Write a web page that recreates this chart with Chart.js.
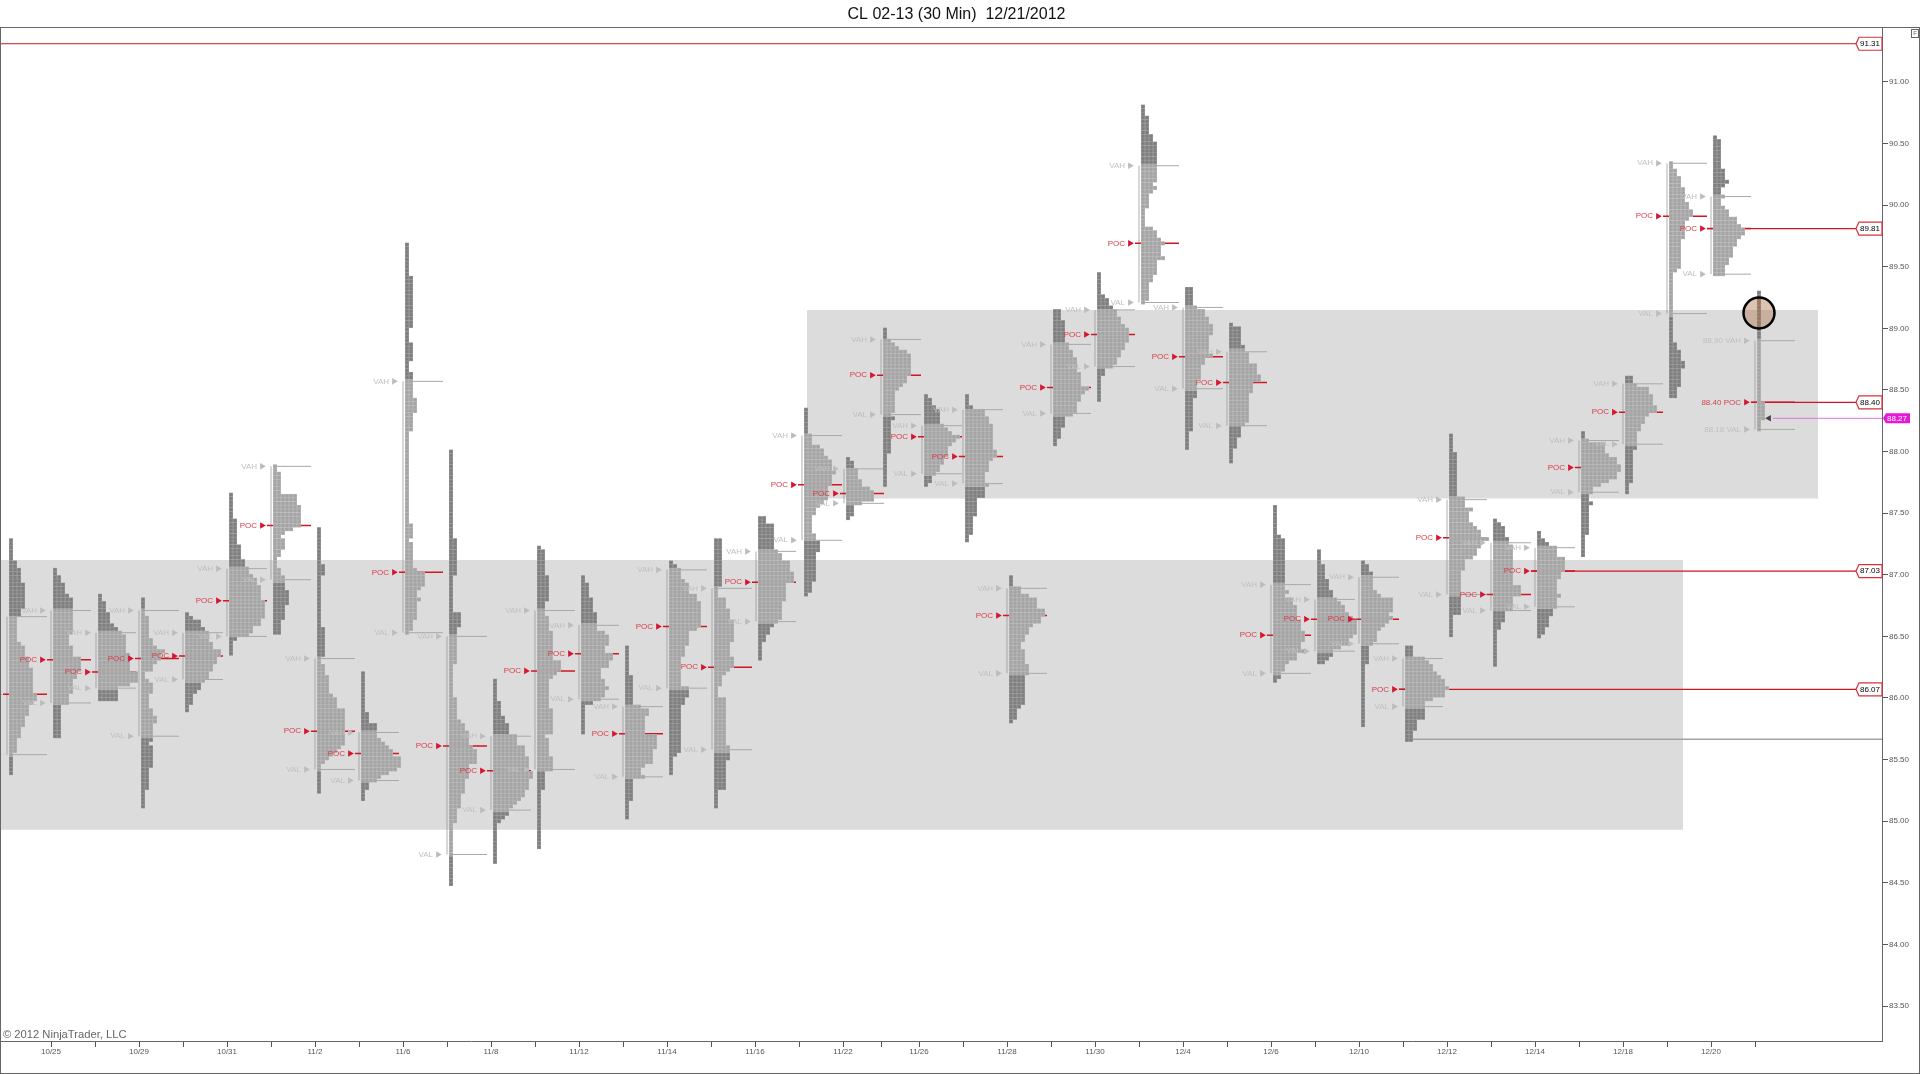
<!DOCTYPE html>
<html>
<head>
<meta charset="utf-8">
<title>CL 02-13 (30 Min)</title>
<script src="https://cdn.jsdelivr.net/npm/chart.js@4"></script>
<style>
  html, body { margin: 0; background: #fff; }
  canvas { display: block; }
</style>
</head>
<body>
<canvas id="grafica" width="1920" height="1074"></canvas>
<script>
const titulo = "CL 02-13 (30 Min)  12/21/2012";
const copyright = "\u00A9 2012 NinjaTrader, LLC";

// first 30 min bar of every session on the x axis
const sessionBar = [8,52,97,140,184,228,272,316,360,404,448,492,536,580,624,668,713,757,803,845,882,923,964,1008,1052,1096,1140,1184,1228,1272,1316,1360,1404,1448,1492,1536,1580,1624,1668,1712,1756];

const topPrice = [87.28,87.04,86.83,86.80,86.68,87.65,87.88,87.37,86.20,89.68,88.00,86.14,87.22,86.98,86.41,87.10,87.28,87.46,88.34,87.94,88.99,88.45,88.45,86.98,89.14,89.44,90.80,89.32,89.03,87.55,87.19,87.10,86.41,88.13,87.44,87.34,88.15,88.60,90.34,90.55,89.29];
const vah = [86.66,86.71,86.53,86.71,86.53,87.05,87.88,86.32,85.72,88.57,86.50,85.69,86.71,86.59,85.93,87.04,86.89,87.19,88.13,87.86,88.91,88.21,88.34,86.89,88.87,89.15,90.32,89.17,88.81,86.92,86.80,86.98,86.32,87.61,87.26,87.22,88.09,88.55,90.34,90.07,88.90];
const poc = [86.03,86.31,86.21,86.32,86.34,86.79,87.40,85.73,85.55,87.02,85.61,85.41,86.22,86.36,85.71,86.58,86.25,86.94,87.73,87.66,88.62,88.12,87.96,86.67,88.52,88.95,89.69,88.77,88.56,86.51,86.64,86.64,86.07,87.30,86.84,87.03,87.87,88.32,89.91,89.81,88.40];
const val = [85.54,85.96,86.08,85.69,86.15,86.50,86.96,85.42,85.33,86.53,84.73,85.09,85.42,85.99,85.36,86.08,85.58,86.62,87.28,87.58,88.30,87.82,87.74,86.20,88.31,88.69,89.21,88.51,88.21,86.20,86.38,86.44,85.93,86.84,86.71,86.74,87.67,88.06,89.12,89.44,88.18];

// width, rows, width, rows ... from the top of each profile, one row = 3 cents
const tpoRuns = [
  [1,6,2,2,3,4,4,7,3,2,2,7,3,1,4,3,5,3,6,7,7,2,6,1,5,3,4,3,3,3,2,4,1,6],
  [1,2,2,2,3,3,4,1,5,3,5,7,4,3,5,3,7,4,6,2,5,4,4,3,2,9],
  [1,2,2,3,3,3,4,1,5,1,6,1,7,5,8,5,10,3,8,1,5,4],
  [1,5,2,6,3,2,4,1,6,1,5,2,4,1,3,2,1,2,2,1,3,3,2,4,3,2,4,2,3,5,2,1,3,6,2,6,1,5],
  [1,1,2,1,4,2,5,1,6,3,7,2,9,2,8,2,7,2,6,2,5,1,4,2,3,1,2,3,1,2],
  [1,7,2,7,3,4,4,2,5,2,6,1,7,2,8,4,9,5,8,2,6,2,5,1,2,1,1,4],
  [1,2,2,6,6,3,7,6,5,1,3,1,2,1,3,3,2,2,1,3,2,2,3,4,4,4,3,4,2,4],
  [1,10,2,3,1,14,2,8,1,2,2,3,3,5,4,1,5,3,7,10,6,1,5,1,4,1,3,1,2,1,1,8],
  [1,11,2,3,4,4,5,1,6,1,7,1,8,2,10,3,9,1,7,1,5,1,4,1,2,2,1,3],
  [1,9,2,14,1,4,2,5,1,3,2,7,3,4,2,5,1,25,2,4,1,1,2,7,3,1,5,4,4,1,3,2,4,1,3,5,2,3,1,1],
  [1,24,2,10,1,10,3,4,2,10,1,9,2,6,3,1,4,2,5,4,6,1,7,4,5,4,4,4,3,4,2,4,1,17],
  [1,6,2,4,3,2,4,3,6,3,8,3,9,4,10,2,9,3,8,2,7,1,6,1,5,1,4,2,3,1,2,1,1,11],
  [1,1,2,7,3,7,2,4,3,4,4,8,6,3,5,1,4,1,3,8,4,7,2,1,3,5,4,4,2,5,1,16],
  [1,2,2,4,3,4,4,5,6,1,7,3,6,2,8,2,7,2,5,3,6,2,7,1,6,2,5,1,3,1,1,8],
  [1,8,2,8,4,1,6,2,5,5,8,4,7,4,5,1,4,2,5,1,2,6,1,5],
  [1,1,2,1,3,3,4,1,5,3,7,2,8,7,7,1,5,4,4,3,3,8,5,3,4,2,3,13,2,1,1,5],
  [2,13,1,3,3,3,4,3,5,6,4,4,5,3,4,1,3,1,2,3,1,3,3,13,4,4,3,8,1,5],
  [2,2,4,7,5,1,6,2,8,3,9,3,7,5,6,5,5,1,4,1,3,2,2,2,1,5],
  [1,7,2,3,4,1,5,2,6,1,7,3,8,1,7,3,6,4,5,1,4,1,3,2,2,5,3,2,4,3,3,8,2,3,1,1],
  [1,1,2,2,3,3,4,2,6,1,7,3,4,1,2,3,1,1],
  [1,3,2,1,3,1,4,1,6,1,7,6,6,2,5,1,4,1,3,6,2,1,3,1,2,9,1,9],
  [1,1,2,2,3,1,4,4,5,1,6,1,7,1,9,1,8,1,7,1,6,3,5,2,4,2,3,1,2,2,1,1],
  [1,3,2,1,5,2,6,2,7,7,8,2,7,1,6,3,5,3,6,1,5,3,3,5,2,5,1,2],
  [1,3,3,2,5,1,7,3,9,2,8,2,6,1,5,2,4,2,3,2,4,4,5,3,4,8,3,1,2,3,1,1],
  [2,3,3,6,4,2,5,2,6,4,7,4,9,1,8,1,7,2,6,3,5,1,3,3,2,3,1,2],
  [1,6,2,1,3,2,4,1,5,2,6,2,7,1,8,4,7,2,6,2,5,2,4,1,2,2,1,7],
  [1,3,2,5,3,2,4,11,3,1,4,1,3,1,2,4,1,5,3,1,4,2,5,1,6,1,5,3,6,1,4,4,3,2,2,5,1,1],
  [2,5,3,1,5,2,6,2,7,3,6,5,7,1,5,2,4,4,3,5,2,9,1,5],
  [1,1,3,5,4,2,5,3,7,3,8,2,6,3,5,8,4,1,3,3,2,3,1,4],
  [1,8,2,1,3,14,4,1,3,1,5,2,6,4,7,3,8,3,7,2,8,1,6,2,4,1,3,2,2,2,1,1],
  [1,4,2,4,3,3,4,2,5,1,6,1,7,2,8,1,9,1,10,4,9,1,8,2,6,1,4,2,3,1,2,1],
  [1,1,2,2,3,5,4,1,5,1,8,4,7,1,8,1,7,1,6,1,5,1,4,3,3,1,2,5,1,17],
  [2,3,5,1,6,1,7,2,8,1,9,1,10,2,11,1,10,2,7,1,5,5,3,3,2,3],
  [1,5,2,12,4,3,6,1,5,3,6,1,7,1,8,2,10,1,8,2,7,2,6,1,4,3,3,12,1,6],
  [1,1,2,1,3,3,4,2,5,11,7,3,5,4,3,3,2,2,1,10],
  [1,2,2,1,3,1,5,3,7,4,6,2,5,4,6,1,5,3,4,2,3,3,2,2,1,1],
  [1,2,2,1,6,3,7,1,9,2,10,2,9,2,7,1,5,1,3,2,2,2,3,1,2,8,1,6],
  [2,2,3,1,6,2,7,3,8,2,6,1,5,2,4,2,3,5,2,9,1,3],
  [1,2,2,2,3,3,4,4,5,2,6,2,5,1,4,5,3,8,2,1,1,19,2,2,3,3,4,2,3,5,2,3],
  [1,1,2,8,3,3,4,1,3,1,2,2,3,1,2,2,3,1,4,2,6,2,7,1,8,2,7,1,6,2,5,3,4,2,3,3],
  [1,30,2,5,1,3]
];

// shaded zones
const zoneFrom = [0, 806];
const zoneTo = [1682, 1817];
const zoneHigh = [87.12, 89.15];
const zoneLow = [84.93, 87.62];

// levels with a tag on the price axis
const tagPrice = [91.31, 89.81, 88.40, 87.03, 86.07];
const tagFromBar = [0, 1706, 1750, 1530, 1398];
const lastPrice = 88.27;
const lowLevel = 85.665;
const lowLevelFrom = 1412;
const circlePrice = 89.125;
const circleBar = 1758;

const priceTicks = [83.5,84,84.5,85,85.5,86,86.5,87,87.5,88,88.5,89,89.5,90,90.5,91];
const barTicks = [50,94,138,182,226,270,314,358,402,446,490,534,578,622,666,710,754,798,842,880,918,962,1006,1050,1094,1138,1182,1226,1270,1314,1358,1402,1446,1490,1534,1578,1622,1666,1710,1754];
const barLabels = ["10/25","10/29","10/31","11/2","11/6","11/8","11/12","11/14","11/16","11/22","11/26","11/28","11/30","12/4","12/6","12/10","12/12","12/14","12/18","12/20"];

const TICK = 0.03;
const CELL = 4;
const TAG_X = 1856;
const RIGHT = 1881;

const cellsLight = [], cellsDark = [];
const pocLines = [], vaLines = [], vaBars = [];
const pocMarks = [], vaMarks = [];

sessionBar.forEach((bar, i) => {
  let row = 0;
  const runs = tpoRuns[i];
  for (let r = 0; r < runs.length; r += 2) {
    for (let k = 0; k < runs[r + 1]; k++) {
      const y = topPrice[i] - row * TICK;
      const inValue = y <= vah[i] + 0.01 && y >= val[i] - 0.01;
      for (let c = 0; c < runs[r]; c++) {
        (inValue ? cellsLight : cellsDark).push({ x: bar + 2 + c * CELL, y: y });
      }
      row++;
    }
  }
  pocLines.push({ x: bar - 6, y: poc[i] }, { x: bar + 38, y: poc[i] }, { x: bar, y: null });
  vaLines.push({ x: bar, y: vah[i] }, { x: bar + 38, y: vah[i] }, { x: bar, y: null });
  vaLines.push({ x: bar, y: val[i] }, { x: bar + 38, y: val[i] }, { x: bar, y: null });
  vaBars.push({ x: bar - 2, y: vah[i] }, { x: bar - 2, y: val[i] }, { x: bar, y: null });
  pocMarks.push({ x: bar - 11, y: poc[i] });
  vaMarks.push({ x: bar - 11, y: vah[i] }, { x: bar - 11, y: val[i] });
});

const tagLines = [];
tagPrice.forEach((p, i) => {
  tagLines.push({ x: tagFromBar[i], y: p }, { x: TAG_X, y: p }, { x: 0, y: null });
});

function linea(data, color, width, order) {
  return { type: "line", data: data, borderColor: color, borderWidth: width, pointRadius: 0, spanGaps: false, order: order };
}
function puntos(data, color, order, extra) {
  return Object.assign({ data: data, backgroundColor: color, borderWidth: 0, pointStyle: "rect", pointRadius: 2.12, order: order }, extra);
}

const datasets = [];
zoneFrom.forEach((from, i) => {
  datasets.push({
    type: "line",
    data: [{ x: from, y: zoneHigh[i] }, { x: zoneTo[i], y: zoneHigh[i] }],
    fill: { value: zoneLow[i] },
    backgroundColor: "#dcdcdc",
    borderWidth: 0,
    pointRadius: 0,
    order: 20
  });
});
datasets.push(linea(vaBars, "rgba(150,150,150,0.5)", 1.5, 15));
datasets.push(linea(vaLines, "#a8a8a8", 1, 14));
datasets.push(linea(pocLines, "#d01525", 1.5, 13));
datasets.push(linea(tagLines, "#d01525", 1.2, 12));
datasets.push(linea([{ x: lowLevelFrom, y: lowLevel }, { x: RIGHT, y: lowLevel }], "#a4a4a4", 1.5, 12));
datasets.push(linea([{ x: 1772, y: lastPrice }, { x: RIGHT, y: lastPrice }], "#e070e0", 1, 12));
// a cell is a lighter square with a darker one on it, that gives the fine grid
datasets.push(puntos(cellsLight, "#b8b8b8", 11, { pointRadius: 2.8 }));
datasets.push(puntos(cellsDark, "#9a9a9a", 11, { pointRadius: 2.8 }));
datasets.push(puntos(cellsLight, "#a4a4a4", 10));
datasets.push(puntos(cellsDark, "#7e7e7e", 10));
datasets.push(puntos(pocMarks, "#d81530", 8, { pointStyle: "triangle", pointRotation: 90, pointRadius: 3.8 }));
datasets.push(puntos(vaMarks, "#bcbcbc", 8, { pointStyle: "triangle", pointRotation: 90, pointRadius: 3.8 }));
datasets.push(puntos([{ x: 1768, y: lastPrice }], "#444444", 8, { pointStyle: "triangle", pointRotation: -90, pointRadius: 3.8 }));
datasets.push({
  data: [{ x: circleBar, y: circlePrice }],
  backgroundColor: "rgba(172,112,72,0.42)",
  borderColor: "#000",
  pointBorderWidth: 2.5,
  pointRadius: 15.5,
  order: 1
});

function tagPath(ctx, left, right, top, bottom) {
  const mid = (top + bottom) / 2;
  ctx.beginPath();
  ctx.moveTo(left, mid);
  ctx.lineTo(left + 3, top);
  ctx.lineTo(right, top);
  ctx.lineTo(right, bottom);
  ctx.lineTo(left + 3, bottom);
  ctx.closePath();
}

const rotulos = {
  id: "rotulos",
  // the layout keeps a gap left of the plot, the x axis has to start at the border
  afterLayout(chart) {
    const { chartArea, scales: { x } } = chart;
    chartArea.left = 1;
    chartArea.width = chartArea.right - 1;
    x.left = 1;
    x.width = x.right - 1;
    x.configure();
  },
  afterDatasetsDraw(chart) {
    const { ctx, scales: { x, y } } = chart;
    ctx.save();
    ctx.font = "8px 'Liberation Sans'";
    ctx.textAlign = "right";
    ctx.textBaseline = "middle";
    sessionBar.forEach((bar, i) => {
      const last = i === sessionBar.length - 1;
      const tx = x.getPixelForValue(bar - 16);
      const texto = (name, p) => last ? p.toFixed(2) + " " + name : name;
      ctx.fillStyle = "#c0c0c0";
      ctx.fillText(texto("VAH", vah[i]), tx, y.getPixelForValue(vah[i]));
      ctx.fillText(texto("VAL", val[i]), tx, y.getPixelForValue(val[i]));
      ctx.fillStyle = last ? "#cf4450" : "#d83a48";
      ctx.fillText(texto("POC", poc[i]), tx, y.getPixelForValue(poc[i]));
    });
    ctx.restore();
  },
  afterDraw(chart) {
    const { ctx, width, height, chartArea, scales: { y } } = chart;
    ctx.save();
    ctx.strokeStyle = "#666";
    ctx.lineWidth = 1;
    ctx.strokeRect(0.5, 27.5, width - 1, height - 28);

    ctx.textBaseline = "middle";
    ctx.textAlign = "center";
    ctx.fillStyle = "#111";
    ctx.font = "16px 'Liberation Sans'";
    ctx.fillText(titulo, 956.5, 14.5);

    ctx.font = "8px 'Liberation Sans'";
    tagPrice.forEach(p => {
      const py = y.getPixelForValue(p);
      tagPath(ctx, TAG_X, chartArea.right, py - 6.5, py + 6.5);
      ctx.fillStyle = "#fff";
      ctx.fill();
      ctx.strokeStyle = "#d8303c";
      ctx.lineWidth = 1.2;
      ctx.stroke();
      ctx.fillStyle = "#000";
      ctx.fillText(p.toFixed(2), TAG_X + 14, py);
    });

    const ly = y.getPixelForValue(lastPrice);
    tagPath(ctx, chartArea.right + 1, chartArea.right + 28, ly - 5, ly + 5);
    ctx.fillStyle = "#e41ad8";
    ctx.fill();
    ctx.fillStyle = "#fff";
    ctx.fillText(lastPrice.toFixed(2), chartArea.right + 15, ly);

    ctx.strokeStyle = "#666";
    ctx.lineWidth = 1;
    ctx.fillStyle = "#fff";
    ctx.fillRect(1911.5, 29.5, 7, 8);
    ctx.strokeRect(1911.5, 29.5, 7, 8);
    ctx.fillStyle = "#666";
    ctx.font = "6px 'Liberation Sans'";
    ctx.fillText("F", 1915, 33.5);

    ctx.textAlign = "left";
    ctx.fillStyle = "#666";
    ctx.font = "11.2px 'Liberation Sans'";
    ctx.fillText(copyright, 3, chartArea.bottom - 6);
    ctx.restore();
  }
};

new Chart(document.querySelector("#grafica"), {
  type: "scatter",
  data: { datasets: datasets },
  plugins: [rotulos],
  options: {
    responsive: false,
    devicePixelRatio: 1,
    animation: false,
    events: [],
    layout: { padding: { left: 1, right: 8, top: 28, bottom: 0 } },
    plugins: {
      legend: { display: false },
      tooltip: { enabled: false }
    },
    scales: {
      x: {
        type: "linear",
        min: 0,
        max: RIGHT,
        afterFit(scale) { scale.height = 33; scale.paddingLeft = 0; scale.paddingRight = 0; },
        afterBuildTicks(scale) { scale.ticks = barTicks.map(v => ({ value: v })); },
        grid: { drawOnChartArea: false, tickLength: 6, tickColor: "#555" },
        border: { color: "#666" },
        ticks: {
          autoSkip: false,
          maxRotation: 0,
          padding: 0,
          color: "#555",
          font: { family: "'Liberation Sans'", size: 8 },
          callback: (v, i) => i % 2 === 0 ? barLabels[i / 2] : ""
        }
      },
      y: {
        type: "linear",
        position: "right",
        min: 83.216,
        max: 91.438,
        afterFit(scale) { scale.width = 30; scale.paddingTop = 0; scale.paddingBottom = 0; },
        afterBuildTicks(scale) { scale.ticks = priceTicks.map(v => ({ value: v })); },
        grid: { drawOnChartArea: false, tickLength: 6, tickColor: "#555" },
        border: { color: "#666" },
        ticks: {
          autoSkip: false,
          padding: 1,
          color: "#555",
          font: { family: "'Liberation Sans'", size: 8 },
          callback: v => v.toFixed(2)
        }
      }
    }
  }
});
</script>
</body>
</html>
